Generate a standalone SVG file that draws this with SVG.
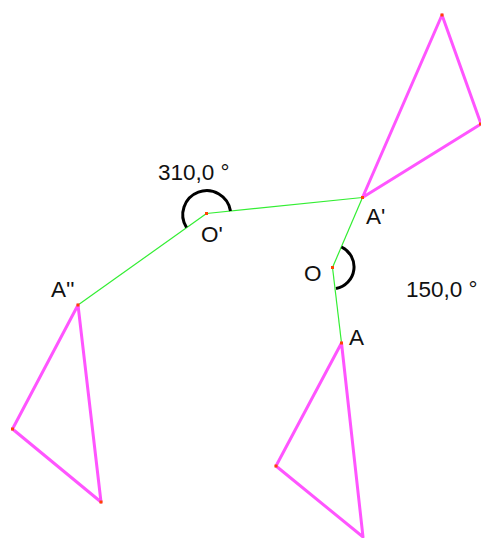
<svg xmlns="http://www.w3.org/2000/svg" width="481" height="538" viewBox="0 0 481 538">
<style>
.seg{stroke:#33ee33;stroke-width:1.2;fill:none}
.tri{stroke:#ff55ff;stroke-width:3;fill:none;stroke-linejoin:round}
.arc{stroke:#000;stroke-width:3;fill:none}
.pt{fill:#ff4400}
text{font-family:"Liberation Sans",Arial,sans-serif;font-size:22.5px;fill:#111}
</style>
<rect width="481" height="538" fill="#fff"/>
<g id="connectors">
<line class="seg" x1="78" y1="305" x2="206.5" y2="213.5"/>
<line class="seg" x1="206.5" y1="213.5" x2="362.5" y2="197.5"/>
<line class="seg" x1="362.5" y1="197.5" x2="332.5" y2="267.5"/>
<line class="seg" x1="332.5" y1="267.5" x2="341.5" y2="343"/>
</g>
<g id="triangle-A">
<polygon class="tri" points="341.5,343 276,466 363,537"/>
</g>
<g id="triangle-A1">
<polygon class="tri" points="362.5,197.5 442,15 481,124"/>
</g>
<g id="triangle-A2">
<polygon class="tri" points="78,305 12.5,429 101,502"/>
</g>
<g id="angle-O1">
<path class="arc" d="M230.5,211 A24,24 0 1 0 186.5,227.5"/>
<text x="158" y="180">310,0 °</text>
</g>
<g id="angle-O">
<path class="arc" d="M341.5,247 A22,22 0 0 1 336,288.5"/>
<text x="406" y="297">150,0 °</text>
</g>
<g id="point-O1">
<rect class="pt" x="205" y="212" width="3" height="3"/>
<text x="201" y="242">O'</text>
</g>
<g id="point-A1">
<rect class="pt" x="361" y="196" width="3" height="3"/>
<text x="366" y="224">A'</text>
</g>
<g id="point-O">
<rect class="pt" x="331" y="266" width="3" height="3"/>
<text x="304" y="281">O</text>
</g>
<g id="point-A">
<rect class="pt" x="340" y="341.5" width="3" height="3"/>
<text x="349" y="345">A</text>
</g>
<g id="point-A2">
<rect class="pt" x="76.5" y="303.5" width="3" height="3"/>
<text x="51" y="297">A''</text>
</g>
<g id="vertices">
<rect class="pt" x="11" y="427.5" width="3" height="3"/>
<rect class="pt" x="99.5" y="500.5" width="3" height="3"/>
<rect class="pt" x="274.5" y="464.5" width="3" height="3"/>
<rect class="pt" x="440.5" y="13.5" width="3" height="3"/>
<rect class="pt" x="479" y="122.5" width="3" height="3"/>
</g>
</svg>
